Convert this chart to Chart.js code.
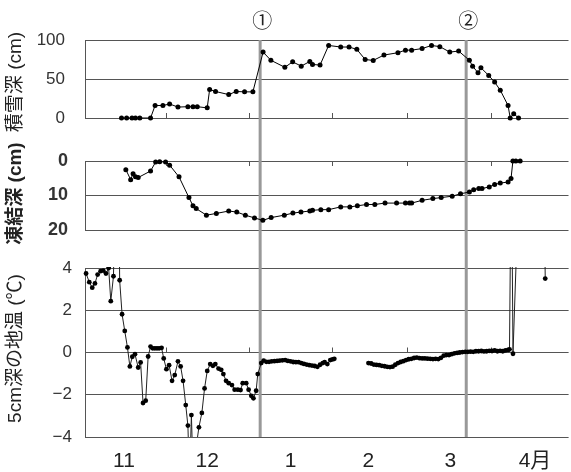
<!DOCTYPE html>
<html>
<head>
<meta charset="utf-8">
<script src="https://cdn.jsdelivr.net/npm/chart.js@4.4.1/dist/chart.umd.min.js"></script>
<style>
  body { margin: 0; background: #fff; }
  #wrap { position: relative; width: 571px; height: 472px; }
  canvas { position: absolute; left: 0; }
</style>
</head>
<body>
<div id="wrap">
  <canvas id="snow" width="571" height="140" style="top:0"></canvas>
  <canvas id="frost" width="571" height="110" style="top:140px"></canvas>
  <canvas id="temp" width="571" height="222" style="top:250px"></canvas>
</div>
<script>
/* x axis: days since 1 Nov */
const monthStarts = [30, 61, 92, 120, 151];
const monthMids = [14.5, 45.5, 76.5, 105.5, 136, 167.5];
const monthLabels = ["11", "12", "1", "2", "3", "4月"];

/* the two marked dates */
const markerDays = [65.2, 141.9];
const markerLabels = ["①", "②"];

/* snow depth (cm) */
const snowDays = [13.6, 15.5, 17.5, 18.8, 20.4, 24.4, 26.1, 29, 31.5, 34.6, 38.3, 40.2, 41.8, 45.5,
  46.4, 48.6, 53.5, 56.3, 59.4, 62.5, 66.3, 69.2, 74.4, 77.3, 80.5, 83.7, 84.7, 87.5, 90.7, 95.2,
  98.3, 101.2, 104.3, 107.3, 111.3, 116.5, 119.3, 121.6, 125.5, 129, 132.1, 135.8, 139.1, 143.1,
  144.3, 146.3, 147.4, 150.3, 152.5, 154.6, 157.5, 158.3, 159.6, 161.4];
const snowDepth = [0, 0, 0, 0, 0, 0, 16, 16, 18, 14, 14.5, 14.5, 14.5, 13,
  36.5, 34, 30, 34, 33.5, 33.5, 84.5, 74, 65, 72, 66.5, 72.5, 68.7, 67.8, 93, 91,
  91, 88, 75, 73.8, 80.7, 83.7, 87, 87, 89, 93, 91.5, 84.5, 85.8, 74,
  66.5, 58, 64.4, 54.5, 46, 35.6, 16, 0, 5.5, 0];

/* frost depth (cm) */
const frostDays = [15.2, 17, 17.9, 18.8, 19.8, 24.4, 26.3, 27.8, 30, 31.5, 35, 38.7, 40.2, 41.4,
  45.2, 48.9, 53.5, 56.5, 59.7, 63.1, 66.2, 69.3, 74.2, 77.4, 80.4, 83.7, 84.7, 87.8, 90.7, 95.2,
  98.6, 101.4, 104.8, 107.9, 111.7, 116, 119.3, 120.8, 121.6, 125.5, 129.5, 132.6, 136.7, 139.8,
  143.1, 144.7, 146.6, 147.8, 150.5, 152.5, 154.6, 157.5, 158.6, 159.3, 160.4, 162];
const frostDepth = [2.5, 5.4, 3.7, 4.6, 4.8, 2.9, 0.3, 0.2, 0.3, 1.2, 4.6, 10.6, 13, 13.8,
  15.7, 15.2, 14.5, 14.8, 15.7, 16.5, 17.2, 16.4, 15.7, 15.1, 14.8, 14.5, 14.3, 14.1, 14.1, 13.3,
  13.3, 13, 12.6, 12.6, 12.2, 12.2, 12.2, 12.2, 12.2, 11.4, 10.9, 10.6, 10.2, 9.5,
  9, 8.3, 8, 8, 7.5, 6.8, 6.4, 6.1, 5.1, 0, 0, 0];

/* soil temperature at 5 cm (°C); null = missing */
const tempDays = [0.4, 1.6, 2.7, 3.7, 4.7, 5.8, 6.8, 7.8, 8.8, 9.6, 10.6, 11.2, 12.6, 12.9,
  13.8, 14.8, 15.8, 16.7, 17.6, 18.6, 19.8, 20.7, 21.6, 22.6, 23.5, 24.4, 25.2, 26, 26.8, 27.6,
  28.5, 29.3, 30.3, 31.3, 32.4, 33.4, 34.6, 35.6, 36.5, 37.5, 38.3, 38.9, 39.6, 40.3, 41, 42.4,
  43.5, 44.5, 45.5, 46.6, 47.6, 48.5, 49.7, 50.7, 51.5, 52.5, 53.5, 54.7, 55.7, 56.9, 57.9, 58.7,
  60, 60.9, 61.9, 62.7, 63.7, 64.3, 65.6, 66.5, 67.5, 68.5, 69.5, 70.5, 71.5, 72.5, 73.5, 74.5,
  75.5, 76.5, 77.5, 78.5, 79.5, 80.5, 81.5, 82.5, 83.5, 84.5, 85.5, 86.5, 87.5, 88.5, 89.2, 90.2,
  91.3, 92.1, 92.8, 99,
  105.5, 106.5, 107.5, 108.5, 109.5, 110.5, 111.5, 112.5, 113.5, 114.5, 115.5, 116.5, 117.5,
  118.5, 119.5, 120.5, 121.5, 122.5, 123.5, 124.5, 125.5, 126.5, 127.5, 128.5, 129.5, 130.5,
  131.5, 132.5, 133.5, 134.5, 135.5, 136.5, 137.5, 138.5, 139.5, 140.5, 141.5, 142.5, 143.5,
  144.5, 145.5, 146.5, 147.5, 148.5, 149.5, 150.5, 151.5, 152.5, 153.5, 154.5, 155.5, 156.5,
  157.5, 158, 158.7, 159.3, 160.8, 163, 166, 169, 171, 171.3];
const tempValues = [3.74, 3.33, 3.07, 3.27, 3.69, 3.85, 3.88, 3.74, 4.0, 2.43, 3.61, 8, 8, 3.42,
  1.81, 1.02, 0.24, -0.66, -0.2, -0.08, -0.71, -0.47, -2.39, -2.28, -0.19, 0.28, 0.2, 0.2, 0.2, 0.2,
  0.22, -0.28, -0.79, -0.6, -1.34, -1.07, -0.42, -0.66, -1.34, -2.49, -3.46, -6, -2.96, -6, -4.8, -3.54,
  -2.86, -1.7, -0.87, -0.55, -0.63, -0.55, -0.76, -0.82, -1.02, -1.34, -1.45, -1.54, -1.76, -1.76, -1.78, -1.45,
  -1.45, -1.76, -2.05, -2.17, -1.81, -1.02, -0.5, -0.38, -0.44, -0.44, -0.42, -0.41, -0.4, -0.38, -0.37, -0.36,
  -0.4, -0.42, -0.45, -0.46, -0.46, -0.5, -0.54, -0.57, -0.6, -0.62, -0.64, -0.68, -0.58, -0.5, -0.46, -0.55,
  -0.36, -0.33, -0.3, null,
  -0.5, -0.52, -0.57, -0.59, -0.6, -0.63, -0.65, -0.68, -0.69, -0.67, -0.58, -0.5, -0.45,
  -0.41, -0.36, -0.32, -0.3, -0.26, -0.24, -0.27, -0.28, -0.28, -0.29, -0.3, -0.31, -0.3,
  -0.31, -0.25, -0.15, -0.12, -0.12, -0.08, -0.04, -0.02, 0, 0.02, 0.03, 0.03, 0.04,
  0.03, 0.06, 0.06, 0.07, 0.05, 0.06, 0.08, 0.07, 0.1, 0.06, 0.08, 0.06, 0.1,
  0.12, 0.15, 10, -0.06, 5.5, 8, 9, 8, 7, 3.5];

const FONT = "'Liberation Sans', 'Noto Sans CJK JP', sans-serif";
const GRID = "#555";

const zip = (xs, ys) => xs.map((x, i) => ({ x: x, y: ys[i] }));

/* month ticks on the zero line, the ①② guide lines, and the rotated axis title */
const guidePlugin = {
  id: "guides",
  beforeDatasetsDraw(chart, args, o) {
    const { ctx, chartArea } = chart;
    const x = chart.scales.x, y = chart.scales.y;
    const y0 = y.getPixelForValue(0);
    ctx.save();
    ctx.strokeStyle = GRID;
    ctx.lineWidth = 1;
    monthStarts.forEach((d) => {
      const px = Math.round(x.getPixelForValue(d)) + 0.5;
      ctx.beginPath();
      ctx.moveTo(px, y0);
      ctx.lineTo(px, y0 + o.tickDir * 5);
      ctx.stroke();
    });
    const top = o.from === "area" ? chartArea.top : 0;
    const bottom = o.to === "area" ? chartArea.bottom : chart.height;
    ctx.strokeStyle = "#999";
    ctx.lineWidth = 3;
    markerDays.forEach((d, i) => {
      const px = x.getPixelForValue(d);
      ctx.beginPath();
      ctx.moveTo(px, top);
      ctx.lineTo(px, bottom);
      ctx.stroke();
      if (o.labels) {
        ctx.fillStyle = "#222";
        ctx.font = "20px " + FONT;
        ctx.textAlign = "center";
        ctx.textBaseline = "middle";
        ctx.fillText(markerLabels[i], px + 2, 22);
      }
    });

    // axis title, drawn without the width limit Chart.js applies
    ctx.translate(16, (chartArea.top + chartArea.bottom) / 2 + o.titleShift);
    ctx.rotate(-Math.PI / 2);
    ctx.fillStyle = "#222";
    ctx.font = (o.bold ? "bold " : "") + "19px " + FONT;
    ctx.textAlign = "center";
    ctx.textBaseline = "middle";
    ctx.fillText(o.title, 0, 0);
    ctx.restore();
  },
};

function makeChart(id, c) {
  return new Chart(document.getElementById(id), {
    type: "line",
    data: {
      datasets: [
        {
          data: c.data,
          borderColor: c.lineColor || "#000",
          borderWidth: 1,
          pointRadius: c.pointRadius,
          pointBackgroundColor: "#000",
          pointBorderWidth: 0,
          pointHoverRadius: c.pointRadius,
          tension: 0,
          spanGaps: false,
          clip: c.clip,
        },
      ],
    },
    options: {
      responsive: false,
      animation: false,
      devicePixelRatio: 1,
      layout: { padding: { top: c.padTop, bottom: c.padBottom, left: 0, right: 1 } },
      plugins: {
        legend: { display: false },
        tooltip: { enabled: false },
        guides: c.guides,
      },
      scales: {
        x: {
          type: "linear",
          min: 0,
          max: 180,
          display: !!c.months,
          grid: { display: false },
          border: { display: false },
          afterBuildTicks: (s) => {
            s.ticks = monthMids.map((v) => ({ value: v }));
          },
          afterFit: (s) => {
            s.height = c.months ? 35 : 0;
          },
          ticks: {
            autoSkip: false,
            maxRotation: 0,
            padding: 4,
            color: "#222",
            font: { family: FONT, size: 21 },
            callback: (v, i) => monthLabels[i],
          },
        },
        y: {
          min: c.min,
          max: c.max,
          reverse: !!c.reverse,
          grid: { color: GRID, drawTicks: false },
          border: { color: GRID },
          afterFit: (s) => {
            // fixed axis width; the label overhang is covered by the layout padding
            s.width = 85;
            s.paddingTop = 0;
            s.paddingBottom = 0;
          },
          ticks: {
            stepSize: c.step,
            autoSkip: false,
            padding: c.tickPad,
            color: "#333",
            font: { family: FONT, size: c.bold ? 18 : 17, weight: c.bold ? "bold" : "normal" },
            callback: (v) => String(v).replace("-", "−"),
          },
        },
      },
    },
    plugins: [guidePlugin],
  });
}

makeChart("snow", {
  data: zip(snowDays, snowDepth),
  pointRadius: 2.5,
  clip: 4,
  padTop: 40,
  padBottom: 22,
  min: 0,
  max: 100,
  step: 50,
  tickPad: 20,
  guides: { from: "area", to: "canvas", tickDir: -1, labels: true, title: "積雪深 (cm)", bold: false, titleShift: 3 },
});

makeChart("frost", {
  data: zip(frostDays, frostDepth),
  pointRadius: 2.5,
  clip: 4,
  padTop: 21,
  padBottom: 20,
  min: 0,
  max: 20,
  step: 10,
  reverse: true,
  bold: true,
  tickPad: 17,
  guides: { from: "canvas", to: "canvas", tickDir: 1, labels: false, title: "凍結深 (cm)", bold: true, titleShift: -2 },
});

makeChart("temp", {
  data: zip(tempDays, tempValues),
  pointRadius: 2.4,
  lineColor: "#222",
  clip: { left: 5, right: 5, top: 1, bottom: 0 },
  padTop: 18,
  padBottom: 0,
  min: -4,
  max: 4,
  step: 2,
  tickPad: 13,
  months: true,
  guides: { from: "canvas", to: "area", tickDir: -1, labels: false, title: "5cm深の地温 (℃)", bold: false, titleShift: -4 },
});
</script>
</body>
</html>
